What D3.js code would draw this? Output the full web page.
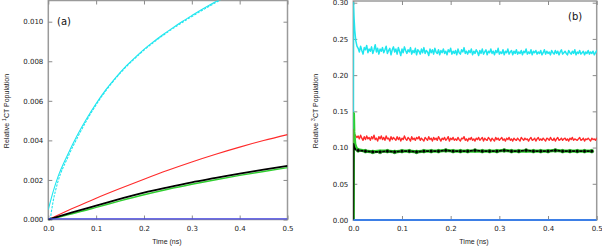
<!DOCTYPE html>
<html>
<head>
<meta charset="utf-8">
<script src="https://cdn.jsdelivr.net/npm/d3@7"></script>
<style>
  body { margin: 0; background: #fff; }
  svg { display: block; }
  .tick text { font-family: "DejaVu Sans", sans-serif; font-size: 7px; fill: #222; }
  .tick line { stroke: #8a8a8a; stroke-width: 1; }
  .title { font-family: "Liberation Sans", Arial, sans-serif; font-size: 7px; fill: #222; }
  .panel { font-family: "DejaVu Sans", sans-serif; font-size: 10px; fill: #111; }
</style>
</head>
<body>
<svg id="chart" width="602" height="247"></svg>
<script>
// ---- panel (a): singlet CT population, smooth curves ----
const xTicks = [0, 0.1, 0.2, 0.3, 0.4, 0.5];
const aTicks = [0, 0.002, 0.004, 0.006, 0.008, 0.010];
const bTicks = [0, 0.05, 0.10, 0.15, 0.20, 0.25, 0.30];

const aCyanT = [0, 0.01, 0.02, 0.04, 0.06, 0.08, 0.10, 0.12, 0.14, 0.16, 0.18, 0.20, 0.22, 0.24, 0.26, 0.28, 0.30, 0.32, 0.34, 0.36];
const aCyan = [0.0005, 0.0014, 0.00214, 0.00325, 0.00423, 0.00509, 0.00586, 0.00655, 0.00715, 0.00769, 0.00816, 0.00860, 0.00899, 0.00935, 0.00969, 0.01001, 0.01031, 0.01060, 0.01088, 0.01115];
const aCyanDashT = [0.004, 0.01, 0.02, 0.04, 0.06, 0.08, 0.10, 0.12, 0.14, 0.16, 0.18, 0.20, 0.22, 0.24, 0.26, 0.28, 0.30, 0.32, 0.34, 0.36];
const aCyanDash = [0.0000, 0.0009, 0.0019, 0.0031, 0.0041, 0.0050, 0.0058, 0.0065, 0.00711, 0.00765, 0.00812, 0.00856, 0.00895, 0.00931, 0.00965, 0.00996, 0.01026, 0.01055, 0.01083, 0.0111];

const aT = [0, 0.05, 0.10, 0.15, 0.20, 0.25, 0.30, 0.35, 0.40, 0.45, 0.50];
const aRed = [0, 0.00055, 0.00108, 0.00157, 0.00204, 0.00249, 0.00291, 0.00330, 0.00366, 0.00399, 0.00429];
const aBlack = [0, 0.00036, 0.00070, 0.00104, 0.00136, 0.00163, 0.00188, 0.00210, 0.00232, 0.00252, 0.00271];
const aGreen = [0, 0.00029, 0.00061, 0.00094, 0.00125, 0.00153, 0.00178, 0.00201, 0.00223, 0.00243, 0.00262];
const aBlue = [0.00003, 0.00003, 0.00003, 0.00003, 0.00003, 0.00003, 0.00003, 0.00003, 0.00003, 0.00003, 0.00003];

// ---- panel (b): triplet CT population, noisy traces ----
// early spike as [t, value] pairs, then samples every 0.0025 ns from 0.010 ns
const bCyanHead = [[0, 0], [0.0005, 0.300], [0.0015, 0.280], [0.003, 0.262], [0.005, 0.248], [0.0075, 0.240]];
const bCyan = [
  0.237, 0.232, 0.240, 0.234, 0.229, 0.238, 0.235, 0.241, 0.231, 0.236,
  0.233, 0.239, 0.230, 0.235, 0.242, 0.232, 0.237, 0.229, 0.236, 0.233,
  0.238, 0.231, 0.235, 0.240, 0.230, 0.234, 0.237, 0.228, 0.235, 0.239,
  0.232, 0.236, 0.229, 0.238, 0.233, 0.227, 0.236, 0.231, 0.239, 0.234,
  0.230, 0.235, 0.232, 0.238, 0.229, 0.234, 0.231, 0.237, 0.228, 0.235,
  0.233, 0.229, 0.236, 0.231, 0.238, 0.230, 0.234, 0.232, 0.227, 0.236,
  0.231, 0.235, 0.229, 0.237, 0.232, 0.230, 0.235, 0.228, 0.234, 0.231,
  0.236, 0.230, 0.233, 0.228, 0.235, 0.232, 0.237, 0.229, 0.233, 0.230,
  0.234, 0.228, 0.236, 0.231, 0.229, 0.235, 0.232, 0.238, 0.230, 0.233,
  0.229, 0.234, 0.231, 0.236, 0.228, 0.233, 0.230, 0.235, 0.232, 0.227,
  0.234, 0.230, 0.236, 0.229, 0.232, 0.235, 0.228, 0.233, 0.231, 0.236,
  0.230, 0.233, 0.228, 0.234, 0.231, 0.237, 0.229, 0.232, 0.230, 0.235,
  0.228, 0.233, 0.231, 0.236, 0.229, 0.232, 0.234, 0.228, 0.233, 0.230,
  0.235, 0.229, 0.232, 0.230, 0.234, 0.228, 0.233, 0.231, 0.236, 0.229,
  0.232, 0.230, 0.235, 0.228, 0.233, 0.231, 0.234, 0.229, 0.232, 0.230,
  0.234, 0.228, 0.231, 0.235, 0.229, 0.233, 0.230, 0.232, 0.228, 0.234,
  0.231, 0.229, 0.234, 0.230, 0.233, 0.228, 0.232, 0.235, 0.229, 0.231,
  0.233, 0.230, 0.228, 0.234, 0.231, 0.229, 0.233, 0.230, 0.235, 0.228,
  0.232, 0.230, 0.234, 0.229, 0.231, 0.233, 0.228, 0.232, 0.230, 0.234,
  0.229, 0.232, 0.230, 0.233, 0.228, 0.231, 0.234, 0.229, 0.232, 0.230
];
const bRedHead = [[0, 0], [0.0005, 0.125], [0.002, 0.119], [0.005, 0.116], [0.0075, 0.114]];
const bRed = [
  0.116, 0.112, 0.117, 0.113, 0.110, 0.115, 0.111, 0.116, 0.112, 0.114,
  0.110, 0.115, 0.112, 0.117, 0.111, 0.113, 0.109, 0.115, 0.112, 0.116,
  0.111, 0.114, 0.110, 0.116, 0.112, 0.113, 0.109, 0.115, 0.111, 0.114,
  0.112, 0.110, 0.115, 0.111, 0.114, 0.109, 0.113, 0.111, 0.116, 0.112,
  0.110, 0.114, 0.112, 0.109, 0.115, 0.111, 0.113, 0.110, 0.114, 0.112,
  0.115, 0.110, 0.113, 0.111, 0.109, 0.114, 0.112, 0.110, 0.115, 0.111,
  0.113, 0.109, 0.114, 0.111, 0.113, 0.110, 0.115, 0.112, 0.109, 0.113,
  0.111, 0.114, 0.110, 0.112, 0.115, 0.109, 0.113, 0.111, 0.114, 0.110,
  0.112, 0.110, 0.114, 0.111, 0.109, 0.113, 0.112, 0.115, 0.110, 0.112,
  0.109, 0.113, 0.111, 0.114, 0.110, 0.112, 0.109, 0.113, 0.111, 0.114,
  0.110, 0.112, 0.114, 0.109, 0.113, 0.111, 0.110, 0.114, 0.112, 0.109,
  0.113, 0.111, 0.109, 0.114, 0.111, 0.113, 0.110, 0.112, 0.114, 0.110,
  0.112, 0.109, 0.113, 0.111, 0.114, 0.110, 0.112, 0.109, 0.113, 0.111,
  0.110, 0.113, 0.111, 0.109, 0.114, 0.112, 0.110, 0.113, 0.111, 0.112,
  0.109, 0.112, 0.114, 0.110, 0.111, 0.113, 0.109, 0.112, 0.114, 0.110,
  0.112, 0.110, 0.113, 0.111, 0.109, 0.113, 0.112, 0.110, 0.114, 0.111,
  0.110, 0.113, 0.109, 0.112, 0.114, 0.110, 0.111, 0.113, 0.110, 0.112,
  0.113, 0.110, 0.112, 0.109, 0.113, 0.111, 0.114, 0.110, 0.112, 0.111,
  0.110, 0.112, 0.114, 0.110, 0.111, 0.113, 0.109, 0.112, 0.111, 0.113,
  0.111, 0.109, 0.113, 0.111, 0.112, 0.110, 0.113, 0.111, 0.110, 0.112
];
// black (with dots) and green: spike, then samples every 0.015 ns from 0.010 ns
const bGreenHead = [[0, 0], [0.0003, 0.147], [0.001, 0.122], [0.003, 0.105], [0.006, 0.099]];
const bGreen = [0.097, 0.095, 0.094, 0.095, 0.095, 0.094, 0.095, 0.095, 0.094, 0.095, 0.095, 0.095, 0.096, 0.095, 0.095, 0.095, 0.095, 0.095, 0.095, 0.095, 0.096, 0.095, 0.095, 0.095, 0.095, 0.095, 0.095, 0.096, 0.095, 0.095, 0.095, 0.095, 0.095];
const bBlackHead = [[0, 0], [0.0005, 0.105], [0.002, 0.100], [0.005, 0.097]];
const bBlack = [0.096, 0.095, 0.094, 0.094, 0.095, 0.094, 0.095, 0.095, 0.094, 0.095, 0.095, 0.095, 0.096, 0.095, 0.095, 0.095, 0.096, 0.095, 0.095, 0.095, 0.096, 0.095, 0.095, 0.096, 0.095, 0.095, 0.095, 0.096, 0.095, 0.095, 0.095, 0.095, 0.095];
const bBlue = [[0, 0], [0.5, 0]];

const COLORS = { cyan: '#1fe6ef', red: '#ff2a2a', green: '#2fcf2f', black: '#000', blueA: '#4444e6', blueB: '#3d7fe6', frame: '#9a9a9a' };

const svg = d3.select('#chart');

function panel(opts) {
  const x = d3.scaleLinear().domain([0, 0.5]).range(opts.xr);
  const y = d3.scaleLinear().domain([0, opts.ymax]).range(opts.yr);
  const g = svg.append('g');
  const [x0, x1] = opts.xr;
  const y0 = opts.yr[0], yTop = opts.top;

  g.append('clipPath').attr('id', opts.id)
    .append('rect').attr('x', x0).attr('y', yTop).attr('width', x1 - x0).attr('height', y0 - yTop + 3);

  // frame
  g.append('rect').attr('x', x0).attr('y', yTop).attr('width', x1 - x0).attr('height', y0 - yTop)
    .attr('fill', 'none').attr('stroke', COLORS.frame).attr('stroke-width', 1.5);

  const bottom = g.append('g').attr('transform', `translate(0,${y0})`)
    .call(d3.axisBottom(x).tickValues(xTicks).tickFormat(d3.format('.1f')).tickSize(-4).tickPadding(6.5));
  const left = g.append('g').attr('transform', `translate(${x0},0)`)
    .call(d3.axisLeft(y).tickValues(opts.yTicks).tickFormat(d3.format(opts.fmt)).tickSize(-4).tickPadding(5));
  const top = g.append('g').attr('transform', `translate(0,${yTop})`)
    .call(d3.axisTop(x).tickValues(xTicks).tickFormat('').tickSize(-4));
  const right = g.append('g').attr('transform', `translate(${x1},0)`)
    .call(d3.axisRight(y).tickValues(opts.yTicks).tickFormat('').tickSize(-4));
  [bottom, left, top, right].forEach(a => a.select('.domain').remove());

  const plot = g.append('g').attr('clip-path', `url(#${opts.id})`);

  g.append('text').attr('class', 'title')
    .attr('x', (x0 + x1) / 2 - 1).attr('y', 244).attr('text-anchor', 'middle').text('Time (ns)');

  const yl = g.append('text').attr('class', 'title').attr('text-anchor', 'middle')
    .attr('transform', `translate(${opts.ylx},111) rotate(-90)`);
  yl.append('tspan').text('Relative ');
  yl.append('tspan').attr('dy', -3).attr('font-size', 5).text(opts.sup);
  yl.append('tspan').attr('dy', 3).text('CT Population');

  g.append('text').attr('class', 'panel').attr('x', opts.lab[0]).attr('y', opts.lab[1]).text(opts.label);

  return { x, y, plot };
}

const A = panel({ id: 'clipA', xr: [48.3, 287.5], yr: [219.5, 21.7], ymax: 0.010, top: 0.5,
  yTicks: aTicks, fmt: '.3f', ylx: 9, sup: '1', label: '(a)', lab: [57, 24.5] });
const B = panel({ id: 'clipB', xr: [353.3, 596.7], yr: [220, 2.7], ymax: 0.30, top: 1,
  yTicks: bTicks, fmt: '.2f', ylx: 318, sup: '3', label: '(b)', lab: [568, 19.5] });

function draw(p, pts, color, width, curve, dash) {
  const line = d3.line().x(d => p.x(d[0])).y(d => p.y(d[1])).curve(curve || d3.curveLinear);
  p.plot.append('path').datum(pts).attr('d', line)
    .attr('fill', 'none').attr('stroke', color).attr('stroke-width', width)
    .attr('stroke-linejoin', 'round').attr('stroke-dasharray', dash || null);
}

const zip = (ts, vs) => ts.map((t, i) => [t, vs[i]]);
const grid = (head, vs, t0, dt) => head.concat(vs.map((v, i) => [t0 + i * dt, v]));

// panel (a)
draw(A, zip(aCyanDashT, aCyanDash), COLORS.cyan, 1.1, d3.curveMonotoneX, '2.5,1.2');
draw(A, zip(aCyanT, aCyan), COLORS.cyan, 1.1, d3.curveMonotoneX);
draw(A, zip(aT, aRed), COLORS.red, 1.1, d3.curveMonotoneX);
draw(A, zip(aT, aGreen), COLORS.green, 1.4, d3.curveMonotoneX);
draw(A, zip(aT, aBlack), COLORS.black, 1.8, d3.curveMonotoneX);
draw(A, zip(aT, aBlue), COLORS.blueA, 1.2);

// panel (b)
draw(B, grid(bCyanHead, bCyan, 0.010, 0.0025), COLORS.cyan, 1.5);
draw(B, grid(bRedHead, bRed, 0.010, 0.0025), COLORS.red, 1.4);
const greenPts = grid(bGreenHead, bGreen, 0.010, 0.015);
draw(B, greenPts, COLORS.green, 3.2);
const blackPts = grid(bBlackHead, bBlack, 0.010, 0.015);
draw(B, blackPts, COLORS.black, 1.8);
B.plot.selectAll('circle.dot').data(blackPts.slice(bBlackHead.length)).enter()
  .append('circle').attr('class', 'dot')
  .attr('cx', d => B.x(d[0])).attr('cy', d => B.y(d[1])).attr('r', 1.9)
  .attr('fill', '#000').attr('stroke', COLORS.green).attr('stroke-width', 0.6);
draw(B, bBlue, COLORS.blueB, 2);
</script>
</body>
</html>
